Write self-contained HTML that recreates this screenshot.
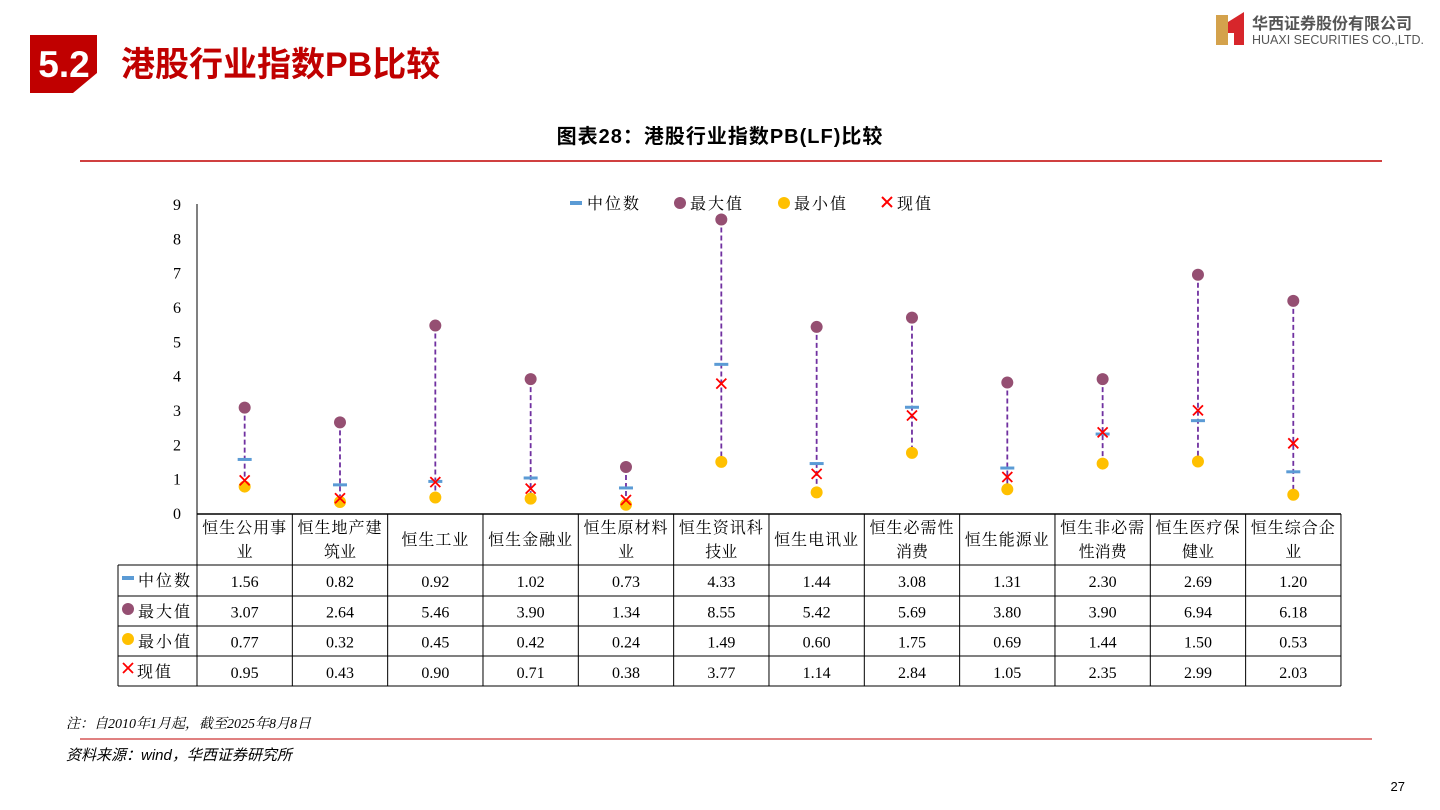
<!DOCTYPE html>
<html><head><meta charset="utf-8"><style>
body{margin:0;background:#fff;width:1440px;height:810px;overflow:hidden;position:relative;font-family:"Liberation Serif","Noto Serif CJK SC",serif}
</style></head><body>
<svg id="s" width="1440" height="810" xmlns="http://www.w3.org/2000/svg" style="position:absolute;left:0;top:0">
<polygon points="30,35 97,35 97,73 73,93 30,93" fill="#C00000"/>
<text x="64" y="77" text-anchor="middle" font-family="Liberation Sans,sans-serif" font-weight="bold" font-size="37" fill="#fff">5.2</text>
<text x="121" y="76" font-family="Liberation Sans,'Noto Sans CJK SC',sans-serif" font-weight="bold" font-size="34" fill="#C00000">港股行业指数PB比较</text>
<polygon points="1216,15 1228,15 1228,45 1216,45" fill="#D4A24C"/>
<polygon points="1228,22 1244,12 1244,45 1234,45 1234,33 1228,33" fill="#D7262B"/>
<text x="1252" y="29" font-family="'Noto Sans CJK SC',sans-serif" font-weight="bold" font-size="16" fill="#555">华西证券股份有限公司</text>
<text x="1252" y="44" font-family="Liberation Sans,sans-serif" font-size="12.5" fill="#555">HUAXI SECURITIES CO.,LTD.</text>
<text x="720" y="143" text-anchor="middle" font-family="Liberation Sans,'Noto Sans CJK SC',sans-serif" font-weight="bold" font-size="20" fill="#000" letter-spacing="1">图表28：港股行业指数PB(LF)比较</text>
<line x1="80" y1="161" x2="1382" y2="161" stroke="#C00000" stroke-width="1.5"/>
<g font-family="'Noto Serif CJK SC',serif" font-size="16" fill="#000" letter-spacing="2">
<rect x="570" y="201" width="12" height="4" fill="#5B9BD5"/><text x="587" y="209">中位数</text>
<circle cx="680" cy="203" r="6" fill="#954F72"/><text x="690" y="209">最大值</text>
<circle cx="784" cy="203" r="6" fill="#FFC000"/><text x="794" y="209">最小值</text>
<path d="M882,197 l10,10 M892,197 l-10,10" stroke="#FF0000" stroke-width="2"/><text x="897" y="209">现值</text>
</g>
<g id="g"></g>
<line x1="80" y1="739" x2="1372" y2="739" stroke="#C00000" stroke-width="1"/>
<text x="66" y="728" font-family="Liberation Serif,'Noto Serif CJK SC',serif" font-style="italic" font-size="14">注：自2010年1月起，截至2025年8月8日</text>
<text x="66" y="760" font-family="Liberation Sans,'Noto Sans CJK SC',sans-serif" font-style="italic" font-size="15">资料来源：wind，华西证券研究所</text>
<text x="1405" y="791" text-anchor="end" font-family="Liberation Sans,sans-serif" font-size="13">27</text>
</svg>
<script>
var med=[1.56,0.82,0.92,1.02,0.73,4.33,1.44,3.08,1.31,2.30,2.69,1.20],
mx=[3.07,2.64,5.46,3.90,1.34,8.55,5.42,5.69,3.80,3.90,6.94,6.18],
mn=[0.77,0.32,0.45,0.42,0.24,1.49,0.60,1.75,0.69,1.44,1.50,0.53],
cu=[0.95,0.43,0.90,0.71,0.38,3.77,1.14,2.84,1.05,2.35,2.99,2.03],
nm=[["恒生公用事","业"],["恒生地产建","筑业"],["恒生工业"],["恒生金融业"],["恒生原材料","业"],["恒生资讯科","技业"],["恒生电讯业"],["恒生必需性","消费"],["恒生能源业"],["恒生非必需","性消费"],["恒生医疗保","健业"],["恒生综合企","业"]];
var h='',X0=197,W=95.33,Y0=513,U=34.33;function y(v){return Y0-v*U}
h+='<line x1="197" y1="204" x2="197" y2="686" stroke="#000"/>';
for(var i=0;i<=9;i++)h+='<text x="181" y="'+(y(i)+6)+'" text-anchor="end" font-size="16" font-family="Liberation Serif,serif">'+i+'</text>';
for(var i=0;i<12;i++){var c=X0+W*(i+.5);
h+='<line x1="'+c+'" y1="'+y(mx[i])+'" x2="'+c+'" y2="'+y(mn[i])+'" stroke="#7030A0" stroke-width="1.8" stroke-dasharray="5,3"/>';
h+='<circle cx="'+c+'" cy="'+y(mx[i])+'" r="6" fill="#954F72"/><circle cx="'+c+'" cy="'+y(mn[i])+'" r="6" fill="#FFC000"/>';
h+='<rect x="'+(c-7)+'" y="'+(y(med[i])-1.5)+'" width="14" height="3" fill="#5B9BD5"/>';
var q=y(cu[i]);h+='<path d="M'+(c-5)+','+(q-5)+' l10,10 M'+(c+5)+','+(q-5)+' l-10,10" stroke="#FF0000" stroke-width="1.8"/>';
var tf='font-family="Liberation Serif,\'Noto Serif CJK SC\',serif" font-size="16" text-anchor="middle"';
if(nm[i].length==2){h+='<text x="'+c+'" y="533" '+tf+' letter-spacing="1">'+nm[i][0]+'</text><text x="'+c+'" y="557" '+tf+'>'+nm[i][1]+'</text>';}
else h+='<text x="'+c+'" y="545" '+tf+' letter-spacing="1">'+nm[i][0]+'</text>';
[med,mx,mn,cu].forEach(function(a,r){h+='<text x="'+c+'" y="'+(587+r*30.3)+'" '+tf+'>'+a[i].toFixed(2)+'</text>'});}
h+='<line x1="197" y1="514" x2="1341" y2="514" stroke="#000" stroke-width="1.5"/>';
for(var i=1;i<=12;i++){var xx=X0+W*i;h+='<line x1="'+xx+'" y1="514" x2="'+xx+'" y2="686" stroke="#000"/>';}
var rows=[565,596,626,656,686];rows.forEach(function(r){h+='<line x1="118" y1="'+r+'" x2="1341" y2="'+r+'" stroke="#000"/>'});
h+='<line x1="118" y1="565" x2="118" y2="686" stroke="#000"/>';
var lf='font-family="\'Noto Serif CJK SC\',serif" font-size="16" letter-spacing="2"';
h+='<rect x="122" y="576" width="12" height="4" fill="#5B9BD5"/><text x="138" y="586" '+lf+'>中位数</text>';
h+='<circle cx="128" cy="609" r="6" fill="#954F72"/><text x="138" y="617" '+lf+'>最大值</text>';
h+='<circle cx="128" cy="639" r="6" fill="#FFC000"/><text x="138" y="647" '+lf+'>最小值</text>';
h+='<path d="M123,663 l10,10 M133,663 l-10,10" stroke="#FF0000" stroke-width="1.8"/><text x="137" y="677" '+lf+'>现值</text>';
document.getElementById('g').innerHTML=h;
</script>
</body></html>
